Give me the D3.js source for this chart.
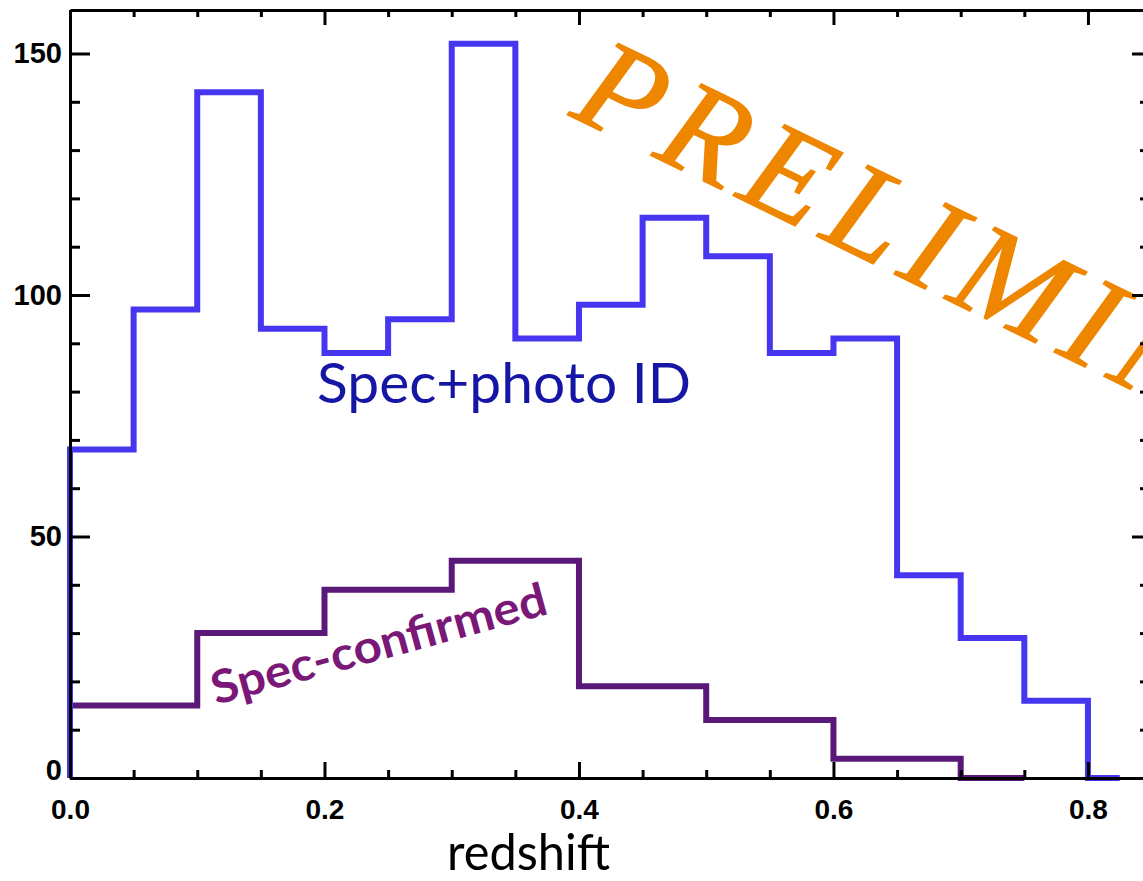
<!DOCTYPE html>
<html>
<head>
<meta charset="utf-8">
<script src="https://cdn.jsdelivr.net/npm/d3@7"></script>
<style>
  html, body { margin: 0; padding: 0; background: #fff; }
  svg { display: block; }
</style>
</head>
<body>
<svg id="chart" width="1143" height="881"></svg>
<script>
// Histogram bin edges and counts (redshift distribution)
const allEdges = [0.00, 0.05, 0.10, 0.15, 0.20, 0.25, 0.30, 0.35, 0.40, 0.45,
                  0.50, 0.55, 0.60, 0.65, 0.70, 0.75, 0.80, 0.825];
const allCounts = [68, 97, 142, 93, 88, 95, 152, 91, 98, 116,
                   108, 88, 91, 42, 29, 16, 0];

const specEdges = [0.0, 0.1, 0.2, 0.3, 0.4, 0.5, 0.6, 0.7, 0.75];
const specCounts = [15, 30, 39, 45, 19, 12, 4, 0];

const xMajor = [0.0, 0.2, 0.4, 0.6, 0.8];
const xMinor = [0.05, 0.10, 0.15, 0.25, 0.30, 0.35, 0.45, 0.50, 0.55, 0.65, 0.70, 0.75];
const yMajor = [0, 50, 100, 150];
const yMinor = [10, 20, 30, 40, 60, 70, 80, 90, 110, 120, 130, 140];

const labelAll = "Spec+photo ID";
const labelSpec = "Spec-confirmed";
const xTitle = "redshift";
const watermark = "PRELIMINARY";

const svg = d3.select("#chart");
svg.append("rect").attr("width", 1143).attr("height", 881).attr("fill", "#fff");

const plotLeft = 70, plotRight = 1148, plotTop = 10, plotBottom = 778;

const x = d3.scaleLinear().domain([0, 0.8472]).range([plotLeft, plotRight]);
const y = d3.scaleLinear().domain([0, 150]).range([plotBottom, 53.5]);

// Turn edges + counts into a stepped outline
function steps(edges, counts, fromZero) {
  const pts = [];
  if (fromZero) pts.push([edges[0], 0]);
  counts.forEach((c, i) => {
    pts.push([edges[i], c]);
    pts.push([edges[i + 1], c]);
  });
  return pts;
}
const line = d3.line().x(d => x(d[0])).y(d => y(d[1]));

// Watermark
svg.append("text")
  .attr("transform", `translate(568,115) rotate(26)`)
  .attr("font-family", "'Liberation Serif', serif")
  .attr("font-style", "italic")
  .attr("font-size", 132)
  .attr("letter-spacing", 12)
  .attr("stroke", "#ee8600")
  .attr("stroke-width", 1.5)
  .attr("fill", "#ee8600")
  .text(watermark);

// Histograms
svg.append("path")
  .attr("d", line(steps(specEdges, specCounts, false)))
  .attr("fill", "none")
  .attr("stroke", "#5a1978")
  .attr("stroke-width", 6)
  .attr("stroke-linejoin", "miter");

svg.append("path")
  .attr("d", line(steps(allEdges, allCounts, true)))
  .attr("fill", "none")
  .attr("stroke", "#4636f0")
  .attr("stroke-width", 6)
  .attr("stroke-linejoin", "miter");

// Axes
const tickFont = "'Liberation Sans', Arial, sans-serif";
function styleAxis(g) {
  g.select(".domain").attr("stroke", "#000").attr("stroke-width", 3);
  g.selectAll(".tick line").attr("stroke", "#000").attr("stroke-width", 3);
  g.selectAll(".tick text")
    .attr("font-family", tickFont)
    .attr("font-weight", "bold")
    .attr("fill", "#000");
}

// bottom
const gB = svg.append("g").attr("transform", `translate(0,${plotBottom})`)
  .call(d3.axisBottom(x).tickValues(xMajor).tickSize(-16).tickSizeOuter(0)
    .tickFormat(d3.format(".1f")));
styleAxis(gB);
gB.selectAll(".tick text").attr("font-size", 28).attr("y", 41).attr("dy", 0);
svg.append("g").attr("transform", `translate(0,${plotBottom})`)
  .call(d3.axisBottom(x).tickValues(xMinor).tickSize(-8).tickSizeOuter(0).tickFormat(""))
  .call(g => { styleAxis(g); g.select(".domain").remove(); });

// top
const gT = svg.append("g").attr("transform", `translate(0,${plotTop})`)
  .call(d3.axisTop(x).tickValues(xMajor).tickSize(-15).tickSizeOuter(0).tickFormat(""));
styleAxis(gT);
svg.append("g").attr("transform", `translate(0,${plotTop})`)
  .call(d3.axisTop(x).tickValues(xMinor).tickSize(-7).tickSizeOuter(0).tickFormat(""))
  .call(g => { styleAxis(g); g.select(".domain").remove(); });

// left
const yFull = y.copy().domain([0, y.invert(plotTop)]).range([plotBottom, plotTop]);
const gL = svg.append("g").attr("transform", `translate(${plotLeft},0)`)
  .call(d3.axisLeft(yFull).tickValues(yMajor).tickSize(-20).tickSizeOuter(0).tickPadding(8));
styleAxis(gL);
gL.selectAll(".tick text").attr("font-size", 29);
gL.selectAll(".tick text").filter(d => d === 0).attr("dy", "0.05em");
svg.append("g").attr("transform", `translate(${plotLeft},0)`)
  .call(d3.axisLeft(yFull).tickValues(yMinor).tickSize(-10).tickSizeOuter(0).tickFormat(""))
  .call(g => { styleAxis(g); g.select(".domain").remove(); });

// right
const gR = svg.append("g").attr("transform", `translate(${plotRight},0)`)
  .call(d3.axisRight(yFull).tickValues(yMajor).tickSize(-16).tickSizeOuter(0).tickFormat(""));
styleAxis(gR);
svg.append("g").attr("transform", `translate(${plotRight},0)`)
  .call(d3.axisRight(yFull).tickValues(yMinor).tickSize(-8).tickSizeOuter(0).tickFormat(""))
  .call(g => { styleAxis(g); g.select(".domain").remove(); });

// Series labels
svg.append("text")
  .attr("x", 317).attr("y", 403)
  .attr("font-family", "Lato, 'Open Sans', sans-serif")
  .attr("font-size", 56)
  .attr("fill", "#1616a5")
  .attr("textLength", 374)
  .attr("lengthAdjust", "spacingAndGlyphs")
  .text(labelAll);

svg.append("text")
  .attr("transform", "translate(216,705) rotate(-15.3)")
  .attr("font-family", "Lato, 'Open Sans', sans-serif")
  .attr("font-weight", "bold")
  .attr("font-size", 46)
  .attr("fill", "#7a1878")
  .attr("textLength", 346)
  .attr("lengthAdjust", "spacingAndGlyphs")
  .text(labelSpec);

// Axis title
svg.append("text")
  .attr("x", 447).attr("y", 870)
  .attr("font-family", "Lato, 'Open Sans', sans-serif")
  .attr("font-size", 50)
  .attr("fill", "#000")
  .attr("textLength", 163)
  .attr("lengthAdjust", "spacingAndGlyphs")
  .text(xTitle);
</script>
</body>
</html>
